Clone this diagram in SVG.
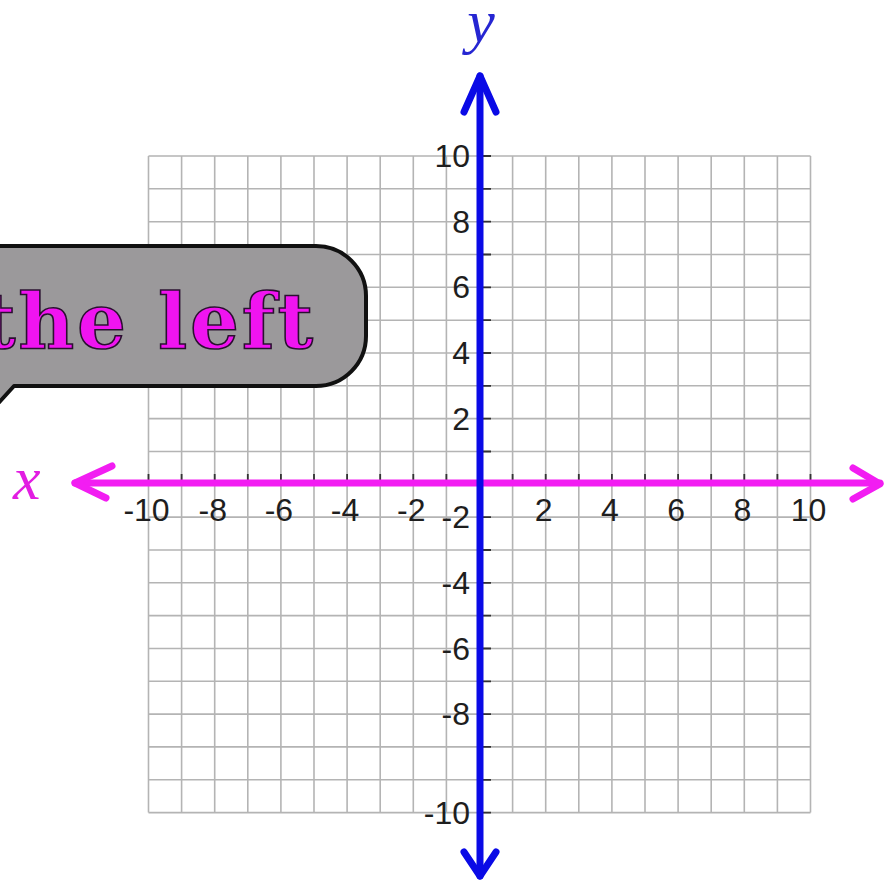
<svg xmlns="http://www.w3.org/2000/svg" width="884" height="889" viewBox="0 0 884 889">
<style>
.grid{fill:none;stroke:#b4b4b4;stroke-width:1.6}
.tick{fill:none;stroke:#333;stroke-width:1.8}
.num{font-family:"Liberation Sans",Arial,sans-serif;font-size:32px;fill:#1e1e1e}
.xn{text-anchor:middle}
.yn{text-anchor:end}
.xaxis{fill:none;stroke:#f21df2;stroke-width:7;stroke-linecap:round;stroke-linejoin:round}
.yaxis{fill:none;stroke:#0a0ae6;stroke-width:7;stroke-linecap:round;stroke-linejoin:round}
.lbl{font-family:"Liberation Serif","Times New Roman",serif;font-style:italic;font-size:62px}
</style>
<rect width="884" height="889" fill="#ffffff"/>
<g id="grid">
<path class="grid" d="M148.5 156V812.6M181.6 156V812.6M214.7 156V812.6M247.8 156V812.6M280.9 156V812.6M314 156V812.6M347.1 156V812.6M380.2 156V812.6M413.3 156V812.6M446.4 156V812.6M479.5 156V812.6M512.6 156V812.6M545.7 156V812.6M578.8 156V812.6M611.9 156V812.6M645 156V812.6M678.1 156V812.6M711.2 156V812.6M744.3 156V812.6M777.4 156V812.6M810.5 156V812.6
M148.5 156H810.5M148.5 188.8H810.5M148.5 221.7H810.5M148.5 254.5H810.5M148.5 287.3H810.5M148.5 320.2H810.5M148.5 353H810.5M148.5 385.8H810.5M148.5 418.6H810.5M148.5 451.5H810.5M148.5 484.3H810.5M148.5 517.1H810.5M148.5 550H810.5M148.5 582.8H810.5M148.5 615.6H810.5M148.5 648.5H810.5M148.5 681.3H810.5M148.5 714.1H810.5M148.5 746.9H810.5M148.5 779.8H810.5M148.5 812.6H810.5"/>
</g>
<g id="ticks">
<path class="tick" d="M148.5 474V481M181.6 474V481M214.7 474V481M247.8 474V481M280.9 474V481M314 474V481M347.1 474V481M380.2 474V481M413.3 474V481M446.4 474V481M512.6 474V481M545.7 474V481M578.8 474V481M611.9 474V481M645 474V481M678.1 474V481M711.2 474V481M744.3 474V481M777.4 474V481M810.5 474V481
M482 156H491M482 188.8H491M482 221.7H491M482 254.5H491M482 287.3H491M482 320.2H491M482 353H491M482 385.8H491M482 418.6H491M482 451.5H491M482 517.1H491M482 550H491M482 582.8H491M482 615.6H491M482 648.5H491M482 681.3H491M482 714.1H491M482 746.9H491M482 779.8H491M482 812.6H491"/>
</g>
<g id="x-labels" class="num xn">
<text x="146.5" y="521">-10</text>
<text x="212.7" y="521">-8</text>
<text x="278.9" y="521">-6</text>
<text x="345.1" y="521">-4</text>
<text x="411.3" y="521">-2</text>
<text x="543.7" y="521">2</text>
<text x="609.9" y="521">4</text>
<text x="676.1" y="521">6</text>
<text x="742.3" y="521">8</text>
<text x="808.5" y="521">10</text>
</g>
<g id="y-labels" class="num yn">
<text x="470" y="167">10</text>
<text x="470" y="232.7">8</text>
<text x="470" y="298.3">6</text>
<text x="470" y="364">4</text>
<text x="470" y="429.6">2</text>
<text x="470" y="528.1">-2</text>
<text x="470" y="593.8">-4</text>
<text x="470" y="659.5">-6</text>
<text x="470" y="725.1">-8</text>
<text x="470" y="823.6">-10</text>
</g>
<g id="connectors">
<g id="x-axis">
<path class="xaxis" d="M75 483H880"/>
<path class="xaxis" d="M112 466L75 483L106 498"/>
<path class="xaxis" d="M853 468L880 484L853 499"/>
</g>
<g id="y-axis">
<path class="yaxis" d="M480 76V876"/>
<path class="yaxis" d="M464 112L480 76L496 112"/>
<path class="yaxis" d="M464 852L480 876L496 852"/>
</g>
</g>
<g id="x-label"><text class="lbl" x="13" y="499" fill="#e21de2">x</text></g>
<g id="y-label"><text class="lbl" x="481" y="42" fill="#2626d2" text-anchor="middle">y</text></g>
<g id="callout">
<path d="M-40 246H316A50 50 0 0 1 366 296V336A50 50 0 0 1 316 386H14L-6 408L-40 386Z" fill="#9b999b" stroke="#111" stroke-width="4" stroke-linejoin="round"/>
<text x="-20" y="348" textLength="333" lengthAdjust="spacing" font-family="'DejaVu Serif',serif" font-weight="bold" font-size="77" fill="#f014f0" stroke="#2a1030" stroke-width="1.6">the left</text>
</g>
</svg>
